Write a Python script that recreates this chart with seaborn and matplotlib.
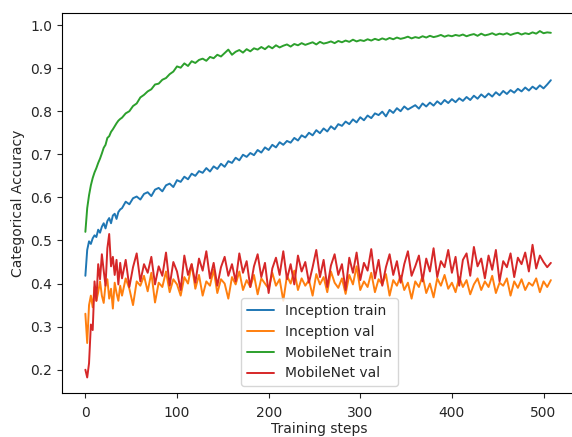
import matplotlib
matplotlib.use("Agg")
import matplotlib.pyplot as plt
import seaborn as sns
import numpy as np
import pandas as pd

# x positions: every 2 steps early on, then every 4 steps
steps = np.r_[np.arange(0, 40, 2), np.arange(40, 512, 4)]

series_names = ["Inception train", "Inception val", "MobileNet train", "MobileNet val"]

inception_train = [
    0.418, 0.478, 0.498, 0.492, 0.505, 0.512, 0.508, 0.525, 0.518, 0.532,
    0.540, 0.528, 0.545, 0.552, 0.540, 0.558, 0.562, 0.550, 0.566, 0.572,
    0.575, 0.590, 0.584, 0.598, 0.602, 0.595, 0.608, 0.612, 0.603, 0.618,
    0.622, 0.614, 0.628, 0.632, 0.624, 0.640, 0.636, 0.648, 0.642, 0.655,
    0.650, 0.661, 0.657, 0.668, 0.660, 0.672, 0.666, 0.678, 0.671, 0.684,
    0.680, 0.692, 0.686, 0.699, 0.694, 0.703, 0.698, 0.710, 0.704, 0.716,
    0.710, 0.722, 0.716, 0.728, 0.722, 0.731, 0.727, 0.738, 0.732, 0.744,
    0.739, 0.750, 0.744, 0.756, 0.749, 0.760, 0.753, 0.765, 0.758, 0.770,
    0.766, 0.776, 0.770, 0.781, 0.774, 0.786, 0.779, 0.790, 0.784, 0.795,
    0.791, 0.799, 0.788, 0.803, 0.796, 0.807, 0.800, 0.811, 0.804, 0.809,
    0.814, 0.806, 0.818, 0.811, 0.820, 0.813, 0.823, 0.816, 0.826, 0.819,
    0.828, 0.821, 0.830, 0.824, 0.833, 0.826, 0.836, 0.829, 0.839, 0.832,
    0.841, 0.834, 0.844, 0.837, 0.847, 0.840, 0.849, 0.843, 0.852, 0.846,
    0.855, 0.848, 0.857, 0.851, 0.860, 0.853, 0.862, 0.872,
]

inception_val = [
    0.330, 0.262, 0.350, 0.372, 0.345, 0.392, 0.360, 0.380, 0.405, 0.372,
    0.355, 0.398, 0.410, 0.365, 0.388, 0.342, 0.402, 0.378, 0.360, 0.395,
    0.372, 0.412, 0.388, 0.350, 0.405, 0.395, 0.418, 0.382, 0.425, 0.356,
    0.402, 0.392, 0.428, 0.380, 0.410, 0.398, 0.372, 0.415, 0.400, 0.445,
    0.388, 0.420, 0.372, 0.405, 0.395, 0.432, 0.378, 0.410, 0.400, 0.365,
    0.415, 0.398, 0.428, 0.385, 0.408, 0.392, 0.420, 0.375, 0.412, 0.400,
    0.388, 0.425, 0.395, 0.410, 0.360, 0.418, 0.400, 0.430, 0.385, 0.412,
    0.395, 0.408, 0.372, 0.422, 0.398, 0.415, 0.380, 0.428, 0.402, 0.390,
    0.412, 0.376, 0.420, 0.398, 0.440, 0.385, 0.405, 0.392, 0.425, 0.380,
    0.410, 0.398, 0.422, 0.372, 0.408, 0.395, 0.418, 0.385, 0.402, 0.365,
    0.405, 0.392, 0.418, 0.378, 0.400, 0.368, 0.412, 0.395, 0.420, 0.388,
    0.402, 0.380, 0.415, 0.392, 0.408, 0.375, 0.398, 0.412, 0.385, 0.405,
    0.392, 0.418, 0.378, 0.402, 0.395, 0.412, 0.372, 0.405, 0.390, 0.410,
    0.385, 0.402, 0.395, 0.412, 0.380, 0.405, 0.392, 0.408,
]

mobilenet_train = [
    0.520, 0.575, 0.605, 0.628, 0.645, 0.658, 0.668, 0.680, 0.690, 0.702,
    0.715, 0.722, 0.738, 0.742, 0.752, 0.758, 0.765, 0.772, 0.778, 0.782,
    0.785, 0.795, 0.800, 0.812, 0.818, 0.832, 0.838, 0.846, 0.851, 0.862,
    0.864, 0.873, 0.877, 0.886, 0.892, 0.904, 0.901, 0.911, 0.905, 0.916,
    0.912, 0.919, 0.922, 0.917, 0.926, 0.923, 0.931, 0.927, 0.935, 0.943,
    0.931, 0.938, 0.942, 0.936, 0.944, 0.939, 0.946, 0.943, 0.949, 0.944,
    0.951, 0.946, 0.953, 0.948, 0.952, 0.955, 0.950, 0.956, 0.953, 0.958,
    0.954, 0.957, 0.960, 0.955, 0.961, 0.957, 0.959, 0.962, 0.958, 0.963,
    0.960, 0.964, 0.961, 0.966, 0.962, 0.965, 0.963, 0.967, 0.964, 0.968,
    0.965, 0.969, 0.966, 0.970, 0.967, 0.971, 0.968, 0.970, 0.973, 0.969,
    0.972, 0.970, 0.974, 0.971, 0.975, 0.972, 0.974, 0.977, 0.973, 0.976,
    0.974, 0.977, 0.975, 0.978, 0.974, 0.977, 0.979, 0.975, 0.980, 0.976,
    0.978, 0.981, 0.977, 0.980, 0.978, 0.981, 0.977, 0.980, 0.982, 0.978,
    0.981, 0.979, 0.983, 0.980, 0.986, 0.981, 0.983, 0.982,
]

mobilenet_val = [
    0.200, 0.182, 0.215, 0.305, 0.292, 0.405, 0.360, 0.445, 0.410, 0.468,
    0.430, 0.395, 0.482, 0.515, 0.440, 0.462, 0.420, 0.455, 0.398, 0.448,
    0.412, 0.455, 0.392, 0.438, 0.470, 0.405, 0.445, 0.425, 0.462, 0.398,
    0.440, 0.418, 0.472, 0.395, 0.450, 0.428, 0.385, 0.465, 0.420, 0.445,
    0.402, 0.458, 0.430, 0.475, 0.412, 0.448, 0.395, 0.438, 0.462, 0.418,
    0.445, 0.405, 0.470, 0.425, 0.452, 0.392, 0.440, 0.468, 0.415, 0.448,
    0.378, 0.435, 0.460, 0.420, 0.475, 0.410, 0.445, 0.398, 0.465, 0.428,
    0.450, 0.402, 0.438, 0.478, 0.415, 0.455, 0.392, 0.442, 0.468, 0.420,
    0.445, 0.385, 0.460, 0.425, 0.472, 0.408, 0.448, 0.430, 0.480, 0.412,
    0.455, 0.395, 0.438, 0.468, 0.420, 0.452, 0.402, 0.445, 0.475, 0.418,
    0.440, 0.465, 0.405, 0.458, 0.428, 0.482, 0.415, 0.452, 0.438, 0.478,
    0.425, 0.462, 0.395, 0.455, 0.470, 0.418, 0.485, 0.440, 0.458, 0.412,
    0.465, 0.432, 0.478, 0.405, 0.452, 0.438, 0.470, 0.415, 0.460, 0.445,
    0.472, 0.428, 0.490, 0.435, 0.465, 0.450, 0.438, 0.448,
]

# long-form table for seaborn
values = [inception_train, inception_val, mobilenet_train, mobilenet_val]
df = pd.concat(
    [pd.DataFrame({"step": steps, "acc": v, "model": name}) for name, v in zip(series_names, values)],
    ignore_index=True,
)

sns.set_style("ticks")
plt.rcParams["font.family"] = ["DejaVu Sans"]

fig = plt.figure(figsize=(5.72, 4.37), dpi=100)
ax = fig.add_axes([0.1084, 0.1007, 0.9003, 0.8696])

sns.lineplot(
    data=df, x="step", y="acc", hue="model",
    hue_order=series_names, palette=sns.color_palette("tab10", 4),
    linewidth=1.4, ax=ax,
)

ax.set_xlim(-25.5, 536.5)
ax.set_ylim(0.146, 1.028)
ax.set_xlabel("Training steps", fontsize=10, labelpad=1)
ax.set_ylabel("Categorical Accuracy", fontsize=10)
ax.tick_params(labelsize=10)
ax.tick_params(axis="x", pad=6)
for s in ax.spines.values():
    s.set_color("black")
    s.set_linewidth(0.8)

handles, labels = ax.get_legend_handles_labels()
ax.legend(handles, labels, loc="lower center", fontsize=10)

fig.savefig("out.png", dpi=100)
